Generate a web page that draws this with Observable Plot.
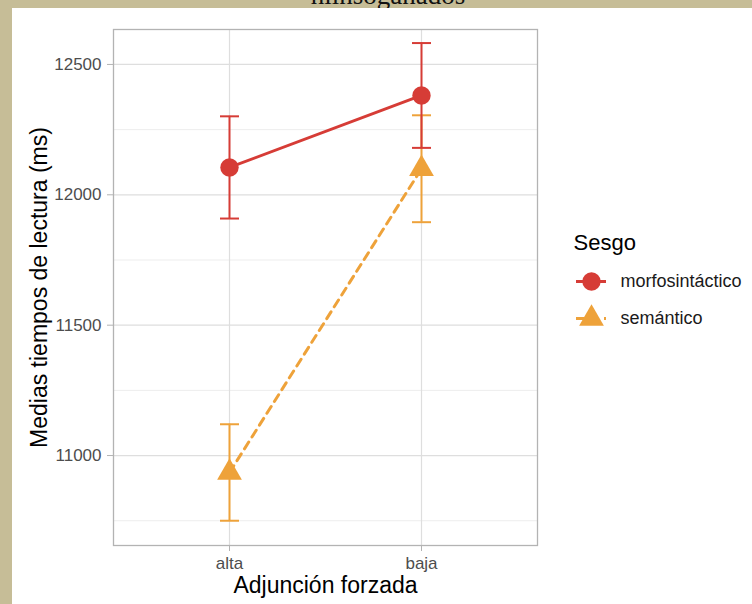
<!DOCTYPE html>
<html>
<head>
<meta charset="utf-8">
<script src="https://cdn.jsdelivr.net/npm/d3@7"></script>
<script src="https://cdn.jsdelivr.net/npm/@observablehq/plot@0.6"></script>
<style>
  html, body { margin: 0; padding: 0; }
  body { width: 752px; height: 604px; background: #c6bd97; position: relative; overflow: hidden; font-family: "Liberation Sans", Arial, sans-serif; }
  #title { position: absolute; left: 0; width: 776px; top: -18px; text-align: center; font-family: "Liberation Serif", "DejaVu Serif", serif; font-size: 27px; line-height: 27px; color: #111; }
  #panel { position: absolute; left: 12px; top: 8px; width: 740px; height: 596px; background: #fff; }
  #main { position: absolute; left: 12px; top: 8px; }
  #legend { position: absolute; left: 570px; top: 225px; }
</style>
</head>
<body>
<div id="title">hiinsoganados</div>
<div id="panel"></div>
<div id="main"></div>
<div id="legend"></div>
<script>
const adjuncion = ["alta", "baja"];
const sesgos = ["morfosintáctico", "semántico"];
const mediasMorfo = [12105, 12381];
const errorMorfo = [196, 201];
const mediasSem = [10935, 12100];
const errorSem = [185, 205];
const yTicks = [11000, 11500, 12000, 12500];
const yMinor = [10750, 11250, 11750, 12250];
const colores = ["#d63c36", "#eea23a"];
const tituloX = "Adjunción forzada";
const tituloY = "Medias tiempos de lectura (ms)";
const tituloLeyenda = "Sesgo";

const rows = [];
adjuncion.forEach((a, i) => rows.push({adj: a, sesgo: sesgos[0], media: mediasMorfo[i], lo: mediasMorfo[i] - errorMorfo[i], hi: mediasMorfo[i] + errorMorfo[i]}));
adjuncion.forEach((a, i) => rows.push({adj: a, sesgo: sesgos[1], media: mediasSem[i], lo: mediasSem[i] - errorSem[i], hi: mediasSem[i] + errorSem[i]}));
const morfoRows = rows.filter(d => d.sesgo === sesgos[0]);
const semRows = rows.filter(d => d.sesgo === sesgos[1]);

const cap = {draw(ctx, size) { const r = Math.sqrt(size / Math.PI); ctx.moveTo(-r, 0); ctx.lineTo(r, 0); }};
const font = '"Liberation Sans", Arial, sans-serif';

const errMarks = (data) => [
  Plot.ruleX(data, {x: "adj", y1: "lo", y2: "hi", stroke: "sesgo", strokeWidth: 2}),
  Plot.dot(data, {x: "adj", y: "hi", symbol: cap, r: 9.5, stroke: "sesgo", strokeWidth: 2, fill: "none"}),
  Plot.dot(data, {x: "adj", y: "lo", symbol: cap, r: 9.5, stroke: "sesgo", strokeWidth: 2, fill: "none"})
];

const main = Plot.plot({
  width: 540, height: 596,
  marginLeft: 101, marginRight: 15, marginTop: 21, marginBottom: 59,
  style: {fontFamily: font, fontSize: "17px", background: "transparent", overflow: "visible"},
  x: {type: "point", domain: adjuncion, padding: 0.6, label: null},
  y: {domain: [10655, 12634], label: null},
  color: {domain: sesgos, range: colores},
  symbol: {domain: sesgos, range: ["circle", "triangle"]},
  marks: [
    Plot.ruleY(yMinor, {stroke: "#ededed", strokeWidth: 1}),
    Plot.gridY(yTicks, {stroke: "#dedede", strokeOpacity: 1, strokeWidth: 1.2}),
    Plot.gridX(adjuncion, {stroke: "#dedede", strokeOpacity: 1, strokeWidth: 1.2}),
    Plot.frame({stroke: "#b3b3b3", strokeWidth: 1.3}),
    Plot.axisY(yTicks, {tickSize: 6, tickPadding: 6, stroke: "#b3b3b3", fill: "#4d4d4d", fontSize: 17, label: null, tickFormat: d3.format("d")}),
    Plot.axisX(adjuncion, {tickSize: 6, tickPadding: 5, stroke: "#b3b3b3", fill: "#4d4d4d", fontSize: 17, label: null}),
    Plot.text([tituloY], {frameAnchor: "left", textAnchor: "middle", rotate: -90, dx: -74, fontSize: 23, fill: "#000"}),
    Plot.text([tituloX], {frameAnchor: "bottom", dy: 47, fontSize: 23, fill: "#000"}),
    ...errMarks(semRows),
    ...errMarks(morfoRows),
    Plot.line(morfoRows, {x: "adj", y: "media", stroke: "sesgo", strokeWidth: 3}),
    Plot.line(semRows, {x: "adj", y: "media", stroke: "sesgo", strokeWidth: 3, strokeDasharray: "8,6"}),
    Plot.dot(rows, {x: "adj", y: "media", fill: "sesgo", symbol: "sesgo", r: 9.2, stroke: "none"})
  ]
});
document.getElementById("main").appendChild(main);

const legend = Plot.plot({
  width: 182, height: 110,
  margin: 0,
  style: {fontFamily: font, fontSize: "18px", background: "transparent", overflow: "visible"},
  x: {domain: [0, 1], range: [6, 36], axis: null},
  y: {type: "point", domain: sesgos, range: [56, 93], padding: 0, axis: null},
  color: {domain: sesgos, range: colores},
  symbol: {domain: sesgos, range: ["circle", "triangle"]},
  marks: [
    Plot.text([tituloLeyenda], {frameAnchor: "top-left", dx: 3, dy: 17, lineAnchor: "middle", textAnchor: "start", fontSize: 22, fill: "#000"}),
    Plot.ruleY([sesgos[0]], {y: d => d, x1: 0, x2: 1, stroke: d => d, strokeWidth: 3}),
    Plot.ruleY([sesgos[1]], {y: d => d, x1: 0, x2: 1, stroke: d => d, strokeWidth: 3, strokeDasharray: "8,6"}),
    Plot.dot(sesgos, {x: 0.5, y: d => d, fill: d => d, symbol: d => d, r: 9.2}),
    Plot.text(sesgos, {x: 1, y: d => d, text: d => d, dx: 14, textAnchor: "start", fontSize: 18, fill: "#1a1a1a"})
  ]
});
document.getElementById("legend").appendChild(legend);
</script>
</body>
</html>
